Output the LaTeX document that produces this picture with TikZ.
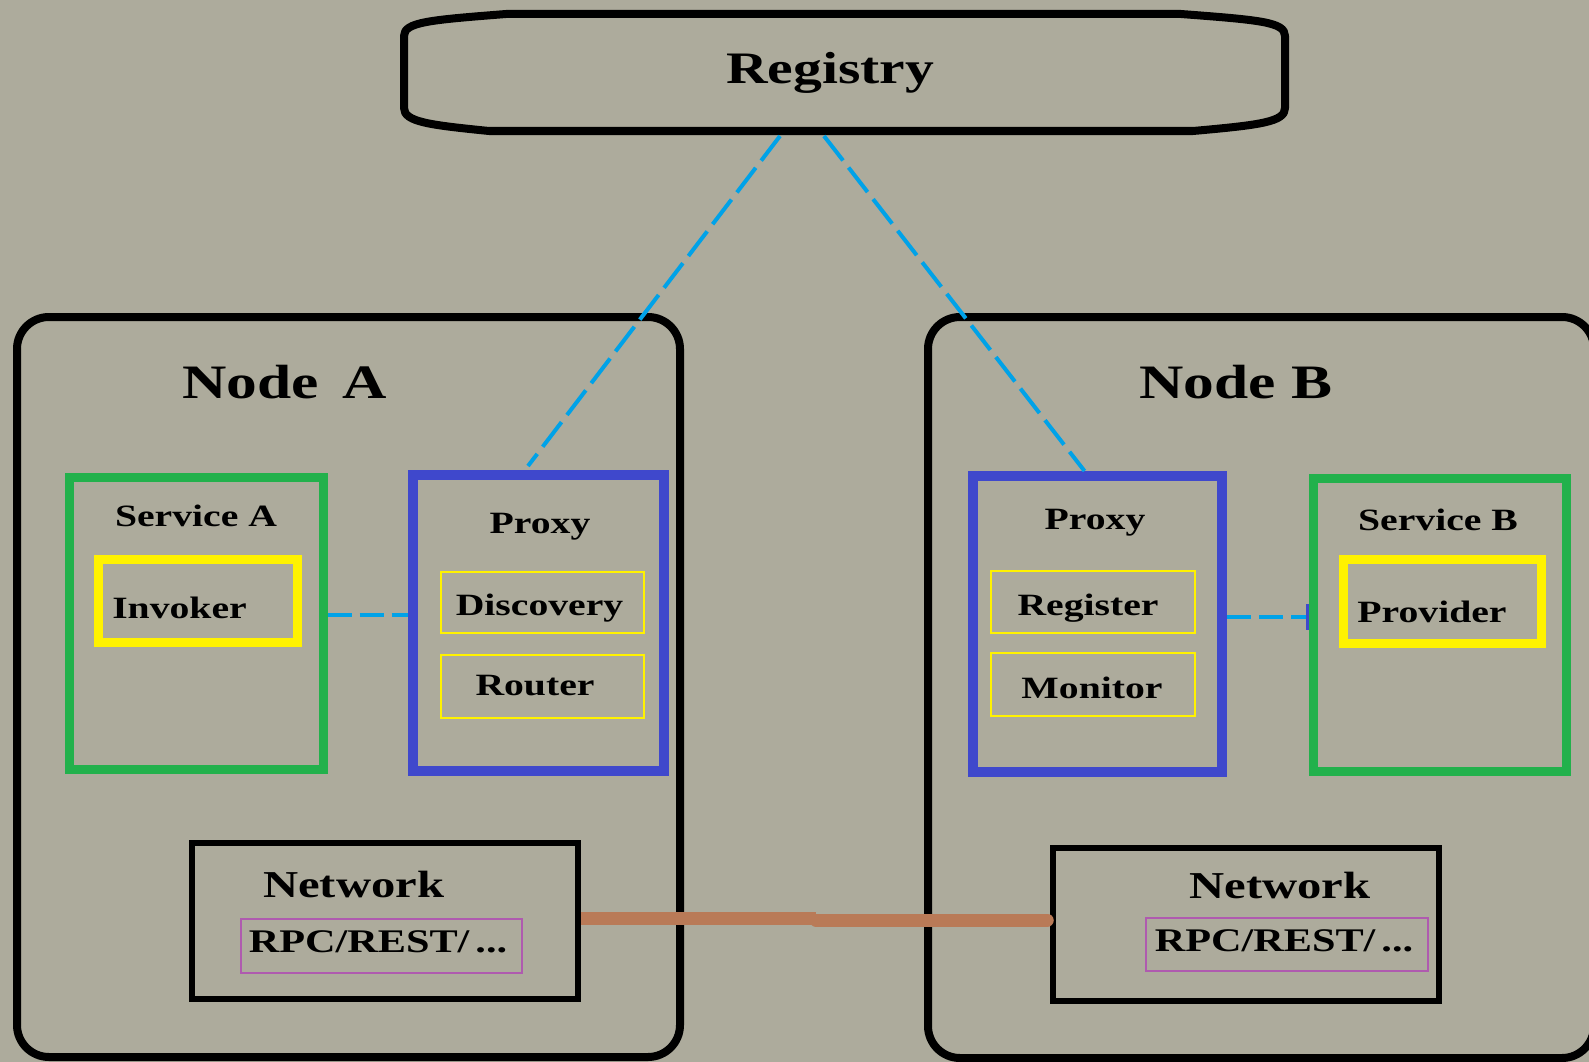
\documentclass[tikz,border=0pt]{standalone}
\usepackage{fontspec}
\setmainfont{Liberation Serif}[FakeStretch=1.28]
\usetikzlibrary{arrows.meta,calc}
\definecolor{bg}{RGB}{173,171,156}
\definecolor{pgreen}{RGB}{34,177,76}
\definecolor{pindigo}{RGB}{63,72,204}
\definecolor{pyellow}{RGB}{255,242,0}
\definecolor{pbrown}{RGB}{185,122,87}
\definecolor{ppurple}{RGB}{175,90,175}
\definecolor{pcyan}{RGB}{0,162,232}
\begin{document}
\begin{tikzpicture}[x=1pt,y=-1pt,
  outer/.style={draw=black,line width=8pt,rounded corners=32pt,rectangle,inner sep=0pt},
  svcbox/.style={draw=pgreen,line width=9pt,rectangle,inner sep=0pt},
  proxybox/.style={draw=pindigo,line width=10pt,rectangle,inner sep=0pt},
  callbox/.style={draw=pyellow,line width=9pt,rectangle,inner sep=0pt},
  featbox/.style={draw=pyellow,line width=1.8pt,rectangle,inner sep=0pt},
  netbox/.style={draw=black,line width=5.5pt,rectangle,inner sep=0pt},
  protobox/.style={draw=ppurple,line width=1.5pt,rectangle,inner sep=0pt},
  lbl/.style={anchor=base,inner sep=0pt,text=black},
  hugefont/.style={font=\bfseries\fontsize{45}{50}\selectfont},
  titlefont/.style={font=\bfseries\fontsize{48}{54}\selectfont},
  netfont/.style={font=\bfseries\fontsize{38}{44}\selectfont},
  smallfont/.style={font=\bfseries\fontsize{31}{36}\selectfont},
  protofont/.style={font=\bfseries\fontsize{33}{38}\selectfont},
  link/.style={draw=pcyan,line width=4pt,dash pattern=on 24pt off 8pt},
  longlink/.style={draw=pcyan,line width=4pt,dash pattern=on 31pt off 9pt},
  wire/.style={draw=pbrown,line width=13pt}
]
\useasboundingbox (0,0) rectangle (1589,1062);
\fill[bg] (0,0) rectangle (1589,1062);

% Registry outline
\draw[line width=8pt,line join=round]
  (404,36) .. controls (404,22) and (430,20) .. (506,14) -- (1181,14)
  .. controls (1260,20) and (1285,22) .. (1285,36) -- (1285,108)
  .. controls (1285,122) and (1260,125) .. (1193,131) -- (489,131)
  .. controls (430,125) and (404,122) .. (404,108) -- cycle;
\node[lbl,hugefont] (registry) at (830,84) {Registry};

% Node containers
\node[outer,minimum width=663pt,minimum height=740pt] (nodeA) at (348.5,687) {};
\node[outer,minimum width=666pt,minimum height=741pt] (nodeB) at (1261,687.5) {};
\node[lbl,titlefont] (nodeAtxt) at (284.7,398) {Node\hspace{8pt} A};
\node[lbl,titlefont] (nodeBtxt) at (1236,398) {Node B};

% Node A contents
\node[svcbox,minimum width=254pt,minimum height=292pt] (svcA) at (196,623) {};
\node[lbl,smallfont] (svcAtxt) at (196,526) {Service A};
\node[callbox,minimum width=198.5pt,minimum height=83pt] (invoker) at (197.75,600.5) {};
\node[lbl,smallfont] (invokertxt) at (179.5,618) {Invoker};

\node[proxybox,minimum width=251pt,minimum height=296pt] (proxyA) at (538.5,623) {};
\node[lbl,smallfont] (proxyAtxt) at (540,533) {Proxy};
\node[featbox,minimum width=203pt,minimum height=61pt] (discovery) at (542.5,602.5) {};
\node[lbl,smallfont] (discoverytxt) at (539.5,615) {Discovery};
\node[featbox,minimum width=203pt,minimum height=63pt] (router) at (542.5,686.5) {};
\node[lbl,smallfont] (routertxt) at (535,695) {Router};

\node[netbox,minimum width=386pt,minimum height=156pt] (netA) at (385,921) {};
\node[lbl,netfont] (netAtxt) at (353.7,897) {Network};
\node[protobox,minimum width=281pt,minimum height=54pt] (rpcA) at (381.5,946) {};
\node[lbl,protofont] (rpcAtxt) at (378,952) {RPC/REST/\hspace{6pt}...};

% Node B contents
\node[proxybox,minimum width=249pt,minimum height=296pt] (proxyB) at (1097.5,624) {};
\node[lbl,smallfont] (proxyBtxt) at (1095,529) {Proxy};
\node[featbox,minimum width=204pt,minimum height=62pt] (register) at (1093,602) {};
\node[lbl,smallfont] (registertxt) at (1088,615) {Register};
\node[featbox,minimum width=204pt,minimum height=63pt] (monitor) at (1093,684.5) {};
\node[lbl,smallfont] (monitortxt) at (1092,698) {Monitor};

\node[svcbox,minimum width=253.5pt,minimum height=293pt] (svcB) at (1440,624.5) {};
\node[lbl,smallfont] (svcBtxt) at (1438,530) {Service B};
\node[callbox,minimum width=198pt,minimum height=84pt] (provider) at (1442,601) {};
\node[lbl,smallfont] (providertxt) at (1432,622) {Provider};

\node[netbox,minimum width=386pt,minimum height=153pt] (netB) at (1246,924.5) {};
\node[lbl,netfont] (netBtxt) at (1280,898) {Network};
\node[protobox,minimum width=282pt,minimum height=53pt] (rpcB) at (1287,944.5) {};
\node[lbl,protofont] (rpcBtxt) at (1284,951) {RPC/REST/\hspace{6pt}...};

% Connectors
\coordinate (regL) at (780,136);
\coordinate (regR) at (824,136);
\draw[longlink] (regL) -- ($(proxyA.north)+(-10.5,-4)$);
\draw[longlink] (regR) -- ($(proxyB.north)+(-13,0)$);
\draw[link] ($(svcA.east)+(0,-8)$) -- ($(proxyA.west)+(0,-8)$);
\draw[link,-{Bar[width=26pt,line width=2.5pt,color=pindigo]}] ($(proxyB.east)+(0,-7)$) -- ($(svcB.west)+(0,-7.5)$);

\coordinate (wireStep) at (816,918);
\draw[wire] ($(netA.east)+(0,-3)$) -- (wireStep);
\draw[wire,line cap=round] ($(wireStep)+(0,2)$) -- ($(netB.west)+(-3,-4.5)$);
\end{tikzpicture}
\end{document}
